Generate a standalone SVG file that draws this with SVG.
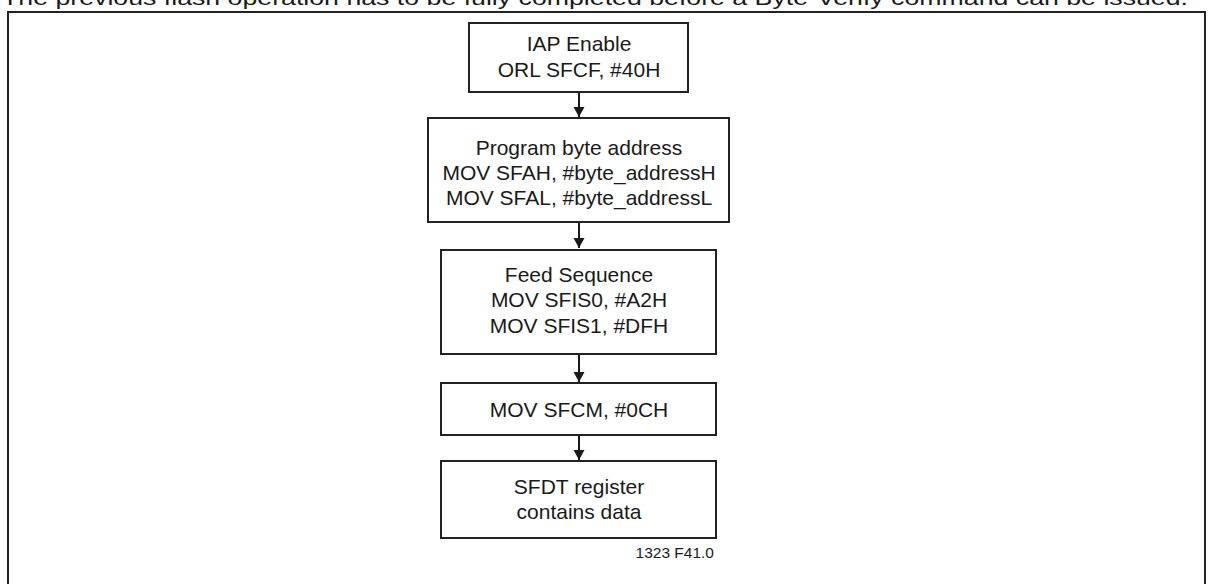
<svg xmlns="http://www.w3.org/2000/svg" width="1212" height="584" viewBox="0 0 1212 584">
<defs>
<marker id="ah" viewBox="0 0 10 14" refX="10" refY="7" markerWidth="10" markerHeight="14" markerUnits="userSpaceOnUse" orient="auto">
<path d="M0,1.5 L10,7 L0,12.5 Z" fill="#1a1a1a"/>
</marker>
<style>
.box{fill:#fff;stroke:#222;stroke-width:2}
.t{font-family:"Liberation Sans",Arial,sans-serif;font-size:21px;fill:#1a1a1a;text-anchor:middle}
.c{stroke:#1a1a1a;stroke-width:2;fill:none;marker-end:url(#ah)}
</style>
</defs>
<rect width="1212" height="584" fill="#fff"/>
<text x="2" y="5" font-family="'Liberation Sans',Arial,sans-serif" font-size="20" fill="#1a1a1a" textLength="1186" lengthAdjust="spacingAndGlyphs">The previous flash operation has to be fully completed before a Byte-Verify command can be issued.</text>
<rect x="8" y="12" width="1197" height="600" fill="none" stroke="#222" stroke-width="2"/>
<g id="connectors">
<line class="c" x1="579" y1="92" x2="579" y2="117"/>
<line class="c" x1="579" y1="222" x2="579" y2="248"/>
<line class="c" x1="579" y1="354" x2="579" y2="382"/>
<line class="c" x1="579" y1="435" x2="579" y2="460"/>
</g>
<g id="n1">
<rect class="box" x="469" y="23" width="219" height="69"/>
<text class="t" x="579" y="51">IAP Enable</text>
<text class="t" x="579" y="77">ORL SFCF, #40H</text>
</g>
<g id="n2">
<rect class="box" x="428" y="118" width="301" height="104"/>
<text class="t" x="579" y="155">Program byte address</text>
<text class="t" x="579" y="180">MOV SFAH, #byte_addressH</text>
<text class="t" x="579" y="205">MOV SFAL, #byte_addressL</text>
</g>
<g id="n3">
<rect class="box" x="441" y="250" width="275" height="104"/>
<text class="t" x="579" y="282">Feed Sequence</text>
<text class="t" x="579" y="307">MOV SFIS0, #A2H</text>
<text class="t" x="579" y="333">MOV SFIS1, #DFH</text>
</g>
<g id="n4">
<rect class="box" x="441" y="383" width="275" height="52"/>
<text class="t" x="579" y="417">MOV SFCM, #0CH</text>
</g>
<g id="n5">
<rect class="box" x="441" y="461" width="275" height="77"/>
<text class="t" x="579" y="494">SFDT register</text>
<text class="t" x="579" y="519">contains data</text>
</g>
<text x="714" y="558" font-family="'Liberation Sans',Arial,sans-serif" font-size="15.5" fill="#1a1a1a" text-anchor="end">1323 F41.0</text>
</svg>
